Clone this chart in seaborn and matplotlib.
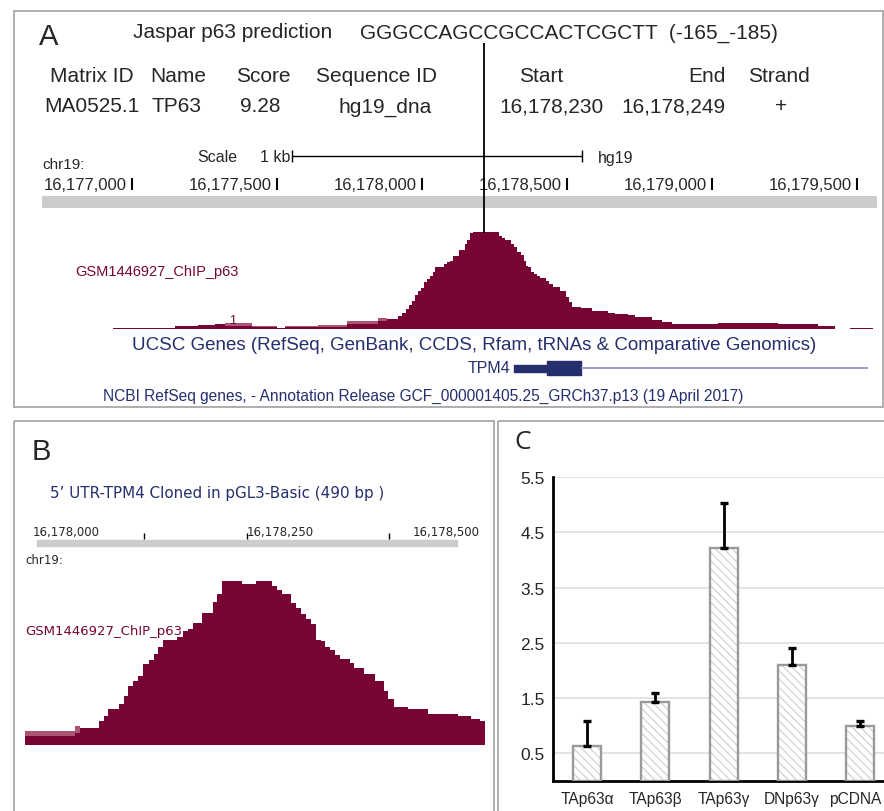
import numpy as np
import pandas as pd
import matplotlib.pyplot as plt
import matplotlib.transforms as mtransforms
import seaborn as sns
from matplotlib.patches import Rectangle

# ---- data ----
# Jaspar prediction table (panel A)
motif_seq = 'GGGCCAGCCGCCACTCGCTT  (-165_-185)'
jaspar_cols = ['Matrix ID', 'Name', 'Score', 'Sequence ID', 'Start', 'End', 'Strand']
jaspar_row = ['MA0525.1', 'TP63', '9.28', 'hg19_dna', '16,178,230', '16,178,249', '+']

# chr19 ruler (panel A)
ruler_a = [16177000, 16177500, 16178000, 16178500, 16179000, 16179500]

# ChIP p63 signal, panel A (bin edges in bp, signal heights)
chip_a_edges = [16176934, 16177148, 16177228, 16177286, 16177321, 16177414, 16177500,
                16177528, 16177641, 16177741, 16177848, 16177879, 16177917, 16177931,
                16177945, 16177955, 16177966, 16177976, 16177986, 16177997, 16178007,
                16178017, 16178028, 16178038, 16178045, 16178076, 16178086, 16178097,
                16178107, 16178128, 16178148, 16178155, 16178166, 16178176, 16178266,
                16178276, 16178286, 16178307, 16178317, 16178328, 16178341, 16178352,
                16178359, 16178366, 16178376, 16178386, 16178397, 16178407, 16178428,
                16178438, 16178452, 16178476, 16178497, 16178507, 16178517, 16178548,
                16178586, 16178641, 16178666, 16178710, 16178734, 16178793, 16178828,
                16178862, 16179021, 16179228, 16179366, 16179424, 16179476, 16179555]
chip_a = [1, 3, 4, 5, 3, 2, 1, 2, 2, 5, 8, 10, 13, 16, 20, 24, 28, 34, 38, 41, 47,
          50, 53, 57, 62, 65, 67, 68, 73, 79, 85, 89, 96, 97, 93, 91, 89, 85, 82, 77,
          74, 68, 63, 62, 57, 55, 53, 51, 48, 45, 42, 38, 32, 27, 22, 21, 18, 16, 15,
          14, 12, 9, 7, 5, 6, 5, 3, 0, 1]
chip_a_lo_edges = [16177321, 16177414, 16177500, 16177528, 16177641, 16177741, 16177848, 16177879]
chip_a_lo = [6, 3, 0, 3, 4, 8, 11]

# TPM4 gene model
tpm4_utr = (16178317, 16178431)
tpm4_cds = (16178431, 16178548)
tpm4_end = 16179538

# ChIP p63 signal, panel B (zoom on cloned 5' UTR)
chip_b_edges = [16177991, 16178049, 16178055, 16178077, 16178083, 16178088, 16178100,
                16178106, 16178111, 16178117, 16178123, 16178129, 16178135, 16178141,
                16178146, 16178152, 16178168, 16178175, 16178181, 16178187, 16178198,
                16178210, 16178215, 16178221, 16178244, 16178261, 16178279, 16178285,
                16178291, 16178301, 16178307, 16178313, 16178319, 16178325, 16178331,
                16178336, 16178341, 16178347, 16178353, 16178359, 16178370, 16178375,
                16178387, 16178399, 16178410, 16178415, 16178422, 16178438, 16178462,
                16178497, 16178512, 16178522, 16178528]
chip_b = [9, 12, 17, 24, 29, 36, 41, 49, 59, 64, 69, 81, 85, 91, 98, 105, 108, 114,
          116, 122, 132, 143, 151, 164, 161, 164, 159, 155, 151, 142, 137, 131, 126,
          121, 105, 104, 98, 95, 90, 86, 82, 77, 71, 64, 54, 46, 38, 36, 31, 29, 26, 24]
chip_b_lo_edges = [16177991, 16178049, 16178055]
chip_b_lo = [14, 19]
clone_b = (16178005, 16178495)
ruler_b_ticks = [16178130, 16178250, 16178416]
ruler_b_labels = ['16,178,000', '16,178,250', '16,178,500']
ruler_b_label_pos = [16178000, 16178250, 16178443]

# panel C: relative luciferase activity
isoforms = ['TAp63\u03b1', 'TAp63\u03b2', 'TAp63\u03b3', 'DNp63\u03b3', 'pCDNA']
activity = [0.63, 1.43, 4.21, 2.09, 0.99]
act_err = [0.45, 0.16, 0.82, 0.32, 0.09]

# ---- figure ----
sns.set_theme(style='white')
plt.rcParams['font.family'] = ['Liberation Sans', 'DejaVu Sans']
plt.rcParams['hatch.linewidth'] = 0.9

W, H = 884, 812
MAROON = '#760535'
PINK = '#ad5475'
NAVY = '#262f6e'
fig = plt.figure(figsize=(W / 100, H / 100), dpi=100)


def px_axes(x0, y0, x1, y1):
    return fig.add_axes([x0 / W, 1 - y1 / H, (x1 - x0) / W, (y1 - y0) / H])


# panel A genome axes (x in bp)
a_xlim = (16177000 + (42 - 132) / 0.29, 16177000 + (877 - 132) / 0.29)

axA = px_axes(42, 140, 877, 385)
axA.set_xlim(a_xlim)
axA.set_ylim(385, 140)
axA.axis('off')
axA.axhspan(197, 209, color='#cccccc', lw=0)
axA.hlines(157, 16177552, 16178552, color='black', lw=1)
axA.vlines([16177552, 16178552], 151, 163, color='black', lw=1)
axA.vlines(ruler_a, 179, 191, color='black', lw=1.5)
for t in ruler_a:
    axA.annotate(f'{t:,}', (t, 186), xytext=(-4, 0), textcoords='offset points',
                 ha='right', va='center', fontsize=12)
axA.hlines(369, tpm4_cds[1], tpm4_end, color='#8a8ac8', lw=1.2)
axA.broken_barh([(tpm4_utr[0], tpm4_utr[1] - tpm4_utr[0])], (366, 7), color=NAVY)
axA.broken_barh([(tpm4_cds[0], tpm4_cds[1] - tpm4_cds[0])], (362, 14), color=NAVY)

axAs = px_axes(42, 230, 877, 330)
axAs.set_xlim(a_xlim)
axAs.set_ylim(0, 100)
axAs.axis('off')
axAs.stairs(chip_a_lo, chip_a_lo_edges, fill=True, color=PINK, lw=0)
axAs.stairs(chip_a, chip_a_edges, fill=True, color=MAROON, lw=0)

# panel B genome axes
b_xlim = (16178000 + (20 - 33) / 0.856, 16178000 + (490 - 33) / 0.856)
axB = px_axes(20, 520, 490, 560)
axB.set_xlim(b_xlim)
axB.set_ylim(560, 520)
axB.axis('off')
axB.broken_barh([(clone_b[0], clone_b[1] - clone_b[0])], (541, 6), color='#cccccc')
axB.vlines(ruler_b_ticks, 534, 540, color='black', lw=1)
for pos, lab in zip(ruler_b_label_pos, ruler_b_labels):
    axB.text(pos, 533, lab, ha='left', va='center', fontsize=8.5, family='DejaVu Sans')

axBs = px_axes(20, 576, 490, 746)
axBs.set_xlim(b_xlim)
axBs.set_ylim(0, 170)
axBs.axis('off')
axBs.stairs(chip_b_lo, chip_b_lo_edges, fill=True, color=PINK, lw=0)
axBs.stairs(chip_b, chip_b_edges, fill=True, color=MAROON, lw=0)

# panel C bar chart
axC = px_axes(553, 478, 884, 782)
df = pd.DataFrame({'isoform': isoforms, 'activity': activity})
sns.barplot(data=df, x='isoform', y='activity', ax=axC, width=0.41, color='white',
            edgecolor='#d2d2d2', linewidth=0, hatch='\\\\\\\\', errorbar=None,
            saturation=1)
for p in list(axC.patches):
    axC.add_patch(Rectangle(p.get_xy(), p.get_width(), p.get_height(), fill=False,
                            ec='#9a9a9a', lw=1.7, zorder=3))
axC.errorbar(np.arange(len(isoforms)), activity, yerr=[np.zeros(len(act_err)), act_err],
             fmt='none', ecolor='black', elinewidth=2, capsize=3, capthick=2.4, zorder=4)
axC.set_ylim(0, 5.5)
axC.set_xlim(-0.5, 4.35)
axC.set_yticks([0.5, 1.5, 2.5, 3.5, 4.5, 5.5])
axC.set_yticklabels(['0.5', '1.5', '2.5', '3.5', '4.5', '5.5'], fontsize=12.5)
axC.set_xticks(np.arange(len(isoforms)))
axC.set_xticklabels(isoforms, fontsize=11.2)
axC.set_xticks([0.5, 1.5, 2.5, 3.5], minor=True)
axC.tick_params(axis='x', which='major', length=0, pad=7)
axC.tick_params(axis='x', which='minor', length=4, width=2, direction='out', color='black')
axC.tick_params(axis='y', length=0, pad=6)
axC.yaxis.grid(True, color='#dedede', lw=1.2)
axC.set_axisbelow(True)
axC.set_xlabel('')
axC.set_ylabel('')
for s in ['top', 'right']:
    axC.spines[s].set_visible(False)
for s in ['left', 'bottom']:
    axC.spines[s].set_color('black')
    axC.spines[s].set_linewidth(2)
# last label sits a little left of its bar, as in the original
last = axC.get_xticklabels()[-1]
last.set_transform(last.get_transform() +
                   mtransforms.ScaledTranslation(-5 / 100, 0, fig.dpi_scale_trans))

# overlay in pixel coordinates: frames, labels, texts
ov = fig.add_axes([0, 0, 1, 1], zorder=10)
ov.set_xlim(0, W)
ov.set_ylim(H, 0)
ov.axis('off')
for x0, y0, x1, y1 in [(14, 12, 883, 408), (14, 422, 494, 816), (498, 422, 890, 816)]:
    ov.add_patch(Rectangle((x0, y0), x1 - x0, y1 - y0, fill=False, ec='#a8a8a8', lw=1.3))

ov.text(39, 37, 'A', fontsize=21, va='center')
ov.text(32, 452, 'B', fontsize=21, va='center')
ov.text(514, 443, 'C', fontsize=19, va='center', family='Open Sans')

ov.text(133, 33, 'Jaspar p63 prediction', fontsize=15, va='center')
ov.text(360, 33, motif_seq, fontsize=15, va='center')
for x, s in zip([50, 150, 236, 316, 519, 688, 748], jaspar_cols):
    ov.text(x, 77, s, fontsize=15, va='center')
for x, s in zip([44, 152, 240, 338, 499, 621, 775], jaspar_row):
    ov.text(x, 107, s, fontsize=15, va='center')
ov.vlines(484, 44, 234, color='black', lw=1.3)

ov.text(42, 165, 'chr19:', fontsize=11, va='center')
ov.text(197, 157, 'Scale', fontsize=11.5, va='center')
ov.text(290, 157, '1 kb', fontsize=11.5, va='center', ha='right')
ov.text(598, 158, 'hg19', fontsize=11.5, va='center')
ov.text(75, 272, 'GSM1446927_ChIP_p63', fontsize=10.5, va='center', color=MAROON)
ov.text(229, 321, '1', fontsize=9, va='center', color=MAROON)
ov.text(474, 346, 'UCSC Genes (RefSeq, GenBank, CCDS, Rfam, tRNAs & Comparative Genomics)',
        fontsize=13.5, va='center', ha='center', color=NAVY)
ov.text(510, 369, 'TPM4', fontsize=11.5, va='center', ha='right', color=NAVY)
ov.text(103, 396, 'NCBI RefSeq genes, - Annotation Release GCF_000001405.25_GRCh37.p13 (19 April 2017)',
        fontsize=11.2, va='center', color=NAVY)

ov.text(50, 494, '5\u2019 UTR-TPM4 Cloned in pGL3-Basic (490 bp )', fontsize=10.9,
        va='center', color=NAVY, family='DejaVu Sans')
ov.text(25, 561, 'chr19:', fontsize=8.5, va='center', family='DejaVu Sans')
ov.text(25, 632, 'GSM1446927_ChIP_p63', fontsize=9.5, va='center', color=MAROON,
        family='DejaVu Sans')

fig.savefig('out.png', dpi=100)
